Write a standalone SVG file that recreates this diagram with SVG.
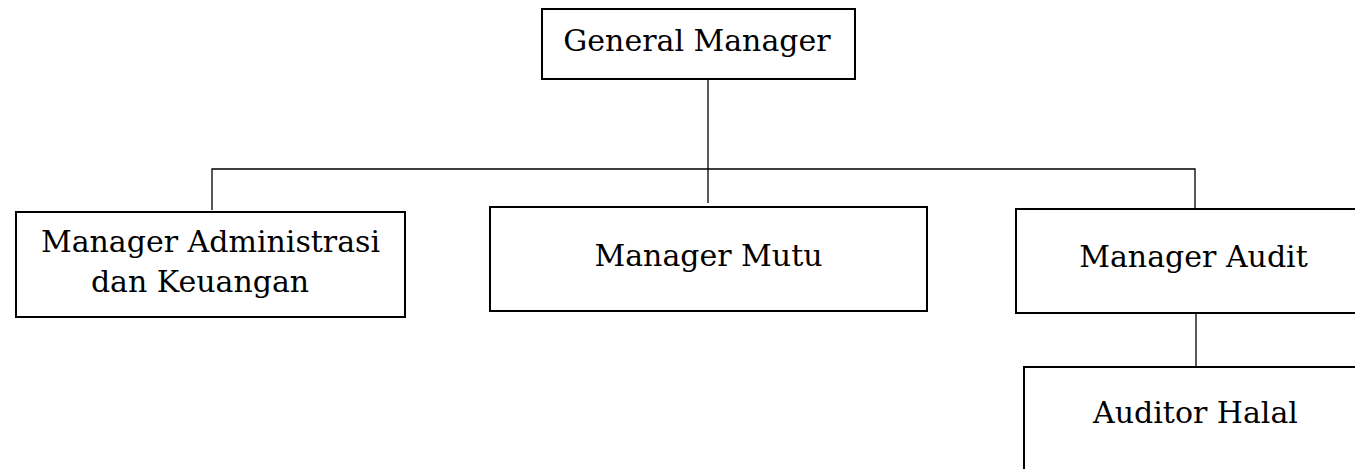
<svg xmlns="http://www.w3.org/2000/svg" width="1355" height="469" viewBox="0 0 1355 469">
<style>
.box{fill:#fff;stroke:#000;stroke-width:2}
.lbl{font-family:"DejaVu Serif","Liberation Serif",serif;font-size:30px;fill:#000;text-anchor:middle}
.con{fill:none;stroke:#000;stroke-width:1.3}
</style>
<rect width="1355" height="469" fill="#fff"/>
<g id="connectors">
<path class="con" d="M708 79 V203"/>
<path class="con" d="M212 210 V169 H1195 V209"/>
<path class="con" d="M1196 313 V367"/>
</g>
<g id="gm">
<rect class="box" x="542" y="9" width="313" height="70"/>
<text class="lbl" x="697" y="51">General Manager</text>
</g>
<g id="admin">
<rect class="box" x="16" y="212" width="389" height="105"/>
<text class="lbl" x="210.5" y="252">Manager Administrasi</text>
<text class="lbl" x="200" y="292">dan Keuangan</text>
</g>
<g id="mutu">
<rect class="box" x="490" y="207" width="437" height="104"/>
<text class="lbl" x="708.5" y="266">Manager Mutu</text>
</g>
<g id="audit">
<rect class="box" x="1016" y="209" width="360" height="104"/>
<text class="lbl" x="1193.5" y="267">Manager Audit</text>
</g>
<g id="auditor">
<rect class="box" x="1024" y="367" width="360" height="130"/>
<text class="lbl" x="1195.5" y="423">Auditor Halal</text>
</g>
</svg>
